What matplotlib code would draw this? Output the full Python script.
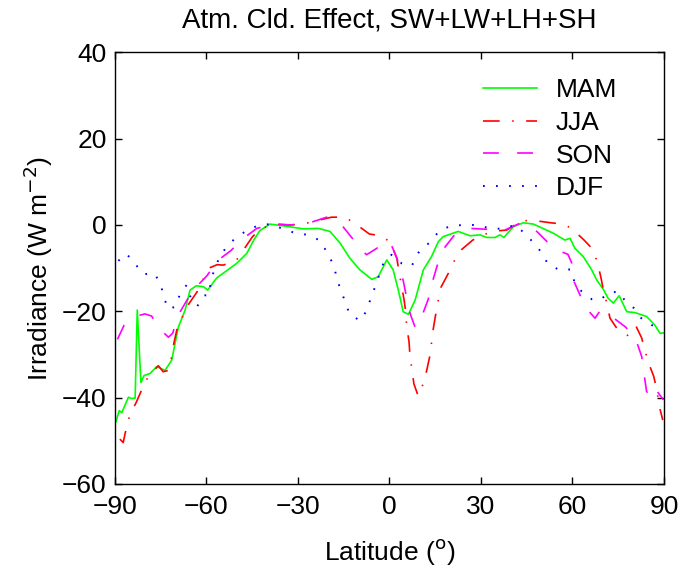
import numpy as np
import matplotlib
matplotlib.use('Agg')
import matplotlib.pyplot as plt

# ------------------------- 数据 -------------------------
lat_mam = [-89.7, -88.6, -87.8, -85.6, -84.5, -83.4, -82.7, -81.5, -80.5, -78.5,
           -76.3, -73.6, -71.4, -69.2, -67.0, -65.4, -63.4, -61.0, -59.6, -56.7,
           -50.1, -46.8, -44.5, -42.5, -39.2, -34.8, -28.3, -23.3, -19.5, -16.2,
           -13.0, -9.7, -5.8, -3.7, -0.9, 1.2, 2.9, 4.5, 6.2, 8.4,
           11.1, 13.8, 16.0, 17.6, 22.5, 26.4, 29.7, 31.9, 34.6, 36.2,
           37.5, 40.6, 43.9, 47.2, 53.7, 57.5, 59.2, 60.8, 63.5, 66.3,
           67.9, 70.1, 71.7, 73.4, 75.3, 77.8, 80.5, 84.3, 87.0, 88.7, 89.8]
mam = [-45.6, -43.0, -43.5, -39.9, -40.2, -40.1, -19.7, -36.5, -34.9, -34.4,
       -32.8, -33.7, -31.3, -23.6, -19.7, -15.1, -14.1, -14.3, -15.1, -12.3,
       -8.9, -6.6, -3.5, -1.3, 0.2, -0.2, -0.9, -0.8, -1.5, -4.2,
       -7.7, -10.4, -12.6, -12.0, -8.1, -10.4, -15.1, -20.1, -20.7, -17.4,
       -10.4, -7.3, -3.9, -2.7, -1.5, -2.5, -2.3, -2.9, -2.9, -2.3,
       -2.9, -0.4, 0.5, 0.2, -1.9, -3.5, -3.1, -5.4, -7.3, -10.4,
       -12.7, -14.9, -17.0, -18.1, -16.4, -20.1, -20.3, -21.2, -23.2, -25.1, -25.0]

lat_jja = [-88.4, -87.3, -86.2, -85.1, -83.1, -81.0, -79.3, -75.8, -74.2, -72.5,
           -71.4, -70.7, -69.6, -67.8, -66.0, -63.0, -61.0, -59.2, -56.5, -54.5,
           -50.3, -47.9, -44.9, -41.9, -37.5, -32.6, -28.3, -23.9, -19.0, -14.6,
           -11.0, -6.6, -2.6, 0.4, 2.4, 3.1, 3.8, 4.8, 5.4, 5.6,
           6.4, 6.7, 7.3, 8.0, 9.4, 11.1, 12.2, 13.3, 13.8, 14.3,
           15.2, 16.0, 16.9, 19.3, 21.1, 23.3, 27.3, 31.0, 34.6, 38.4,
           43.3, 47.7, 52.9, 57.2, 60.0, 63.8, 66.6, 68.1, 69.3, 70.1,
           71.2, 72.3, 74.5, 78.0, 80.8, 82.7, 83.8, 85.4, 86.6, 87.6, 88.5, 89.6]
jja = [-49.6, -50.4, -46.7, -43.9, -41.2, -37.8, -35.4, -32.6, -34.0, -33.7,
       -30.5, -27.4, -23.9, -21.2, -18.5, -15.4, -12.5, -10.0, -9.2, -9.3,
       -8.3, -5.8, -2.7, -0.8, 0.2, 0.0, 0.2, 1.0, 1.8, 1.8,
       0.2, -2.1, -2.5, -4.1, -7.7, -10.7, -13.5, -17.4, -20.5, -23.4,
       -27.0, -30.1, -33.2, -36.8, -39.6, -36.7, -33.7, -30.1, -27.2, -24.3,
       -20.5, -17.4, -14.4, -11.2, -8.5, -5.9, -3.5, -2.2, -1.4, -1.2,
       1.0, 1.0, 0.5, 0.2, -1.0, -3.5, -5.6, -8.5, -12.1, -14.9,
       -18.0, -21.6, -23.9, -25.6, -23.4, -26.2, -29.3, -32.8, -35.0, -38.0, -42.1, -45.2]

lat_son = [-89.2, -87.0, -85.0, -82.9, -80.2, -78.0, -76.3, -74.7, -72.5, -71.1,
           -69.2, -65.4, -63.0, -59.9, -56.1, -52.1, -47.9, -43.5, -38.1, -32.6,
           -26.6, -20.6, -15.7, -12.4, -8.6, -7.5, -3.7, 0.2, 3.1, 4.5,
           5.6, 6.9, 8.4, 9.1, 10.9, 12.7, 14.1, 15.7, 17.9, 21.1,
           26.6, 31.9, 36.8, 42.8, 48.0, 51.7, 56.7, 58.5, 59.7, 60.5,
           62.7, 65.5, 67.4, 69.0, 73.2, 77.5, 81.0, 82.7, 83.5, 84.3,
           86.8, 87.8, 89.8]
son = [-26.5, -23.2, -22.0, -21.1, -20.6, -21.1, -23.0, -24.5, -26.0, -25.1,
       -20.8, -16.2, -14.1, -11.8, -8.1, -6.0, -3.1, -0.8, 0.2, 0.0,
       0.4, 1.8, 0.0, -2.9, -6.2, -6.9, -5.2, -3.9, -8.9, -12.9,
       -16.8, -20.8, -23.7, -23.6, -20.6, -17.2, -13.1, -9.3, -5.4, -2.5,
       -0.8, -1.0, -1.5, 0.4, -1.3, -3.9, -6.3, -6.8, -8.7, -13.1,
       -16.6, -20.1, -21.6, -19.9, -21.4, -23.7, -27.0, -30.5, -34.7, -38.6,
       -40.4, -38.6, -40.5]

lat_djf = [-88.9, -86.2, -83.4, -80.7, -77.1, -75.0, -74.0, -72.5, -70.1, -68.7,
           -66.5, -65.2, -63.0, -60.8, -59.2, -58.6, -57.5, -55.8, -53.4, -50.3,
           -46.8, -42.7, -38.6, -34.8, -30.7, -26.6, -22.8, -20.6, -18.6, -17.3,
           -16.2, -14.6, -13.2, -9.7, -7.5, -6.2, -4.7, -3.3, -1.8, 0.7,
           4.0, 7.3, 9.2, 10.2, 13.6, 16.2, 20.1, 24.4, 28.6, 33.0,
           37.3, 41.1, 44.3, 47.2, 49.9, 51.9, 55.6, 59.5, 60.6, 63.0,
           66.3, 69.0, 71.7, 75.0, 77.5, 80.2, 82.4, 85.9, 89.2]
djf = [-8.3, -6.7, -9.0, -11.4, -11.2, -13.7, -16.8, -19.5, -18.9, -16.0,
       -13.9, -16.8, -18.8, -16.3, -16.3, -13.3, -10.4, -7.6, -5.0, -2.9,
       -1.3, 0.0, 0.2, -1.0, -1.9, -2.3, -3.6, -6.2, -8.9, -12.0,
       -14.8, -17.6, -20.5, -22.2, -19.9, -17.1, -14.3, -11.4, -8.5, -6.9,
       -8.9, -9.5, -6.8, -5.6, -3.9, -1.4, -0.2, 0.0, 0.0, -0.8,
       -0.9, 0.0, -1.9, -4.1, -6.4, -9.0, -10.4, -10.3, -13.1, -15.4,
       -17.2, -17.4, -15.8, -15.4, -17.8, -19.3, -21.5, -23.2, -23.6]

seasons = ['MAM', 'JJA', 'SON', 'DJF']
xticks = [-90, -60, -30, 0, 30, 60, 90]
yticks = [-60, -40, -20, 0, 20, 40]

# ------------------------- 绘图 -------------------------
plt.rcParams['font.family'] = ['Liberation Sans', 'DejaVu Sans']

fig = plt.figure(figsize=(6.89, 5.77), dpi=100)
ax = fig.add_axes([0.1669, 0.1612, 0.7968, 0.7482])

ax.plot(lat_mam, mam, color='#00ff00', lw=1.2, label=seasons[0])
ax.plot(lat_jja, jja, color='#ff0000', lw=1.2, dashes=(10, 7.5, 0.9, 7.5), label=seasons[1])
ax.plot(lat_son, son, color='#ff00ff', lw=1.2, dashes=(9.5, 11), label=seasons[2])
ax.plot(lat_djf, djf, color='#0000ff', lw=1.4, dashes=(0.9, 5.8), label=seasons[3])

ax.set_xlim(-90, 90)
ax.set_ylim(-60, 40)
ax.set_xticks(xticks)
ax.set_yticks(yticks)
ax.tick_params(direction='in', top=True, right=True, length=5, width=1,
               labelsize=19)
ax.tick_params(axis='x', pad=8)
ax.tick_params(axis='y', pad=6)
for s in ax.spines.values():
    s.set_linewidth(1.0)

ax.set_title('Atm. Cld. Effect, SW+LW+LH+SH', fontsize=20, pad=18)
ax.set_xlabel('Latitude ($^{\\rm o}$)', fontsize=19, labelpad=13)
ax.set_ylabel('Irradiance (W m$^{-2}$)', fontsize=19, labelpad=5)

ax.legend(loc='upper left', bbox_to_anchor=(0.670, 0.940), frameon=False,
          fontsize=19, handlelength=2.05, handletextpad=0.7,
          labelspacing=0.33, borderaxespad=0, borderpad=0)

fig.savefig('out.png', dpi=100)
